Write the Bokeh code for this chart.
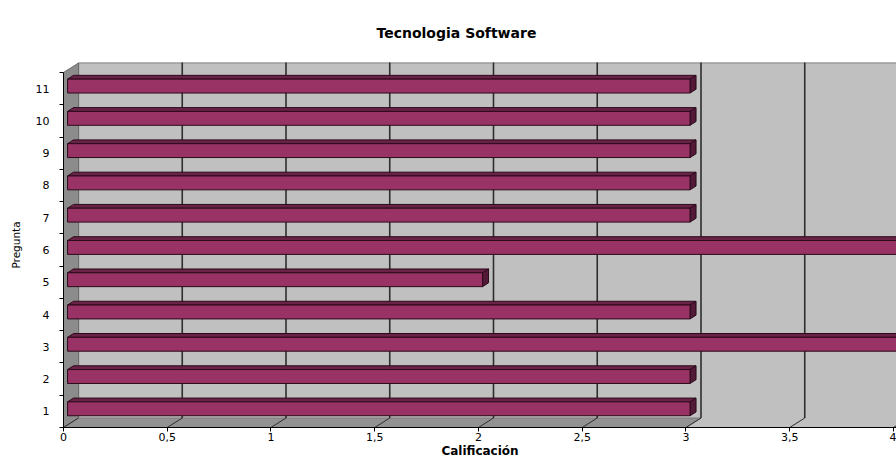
from bokeh.plotting import figure
from bokeh.models import FixedTicker, CustomJSTickFormatter, Range1d, Title
from bokeh.embed import file_html
from bokeh.resources import INLINE

# ---- data ----
categories = ["1", "2", "3", "4", "5", "6", "7", "8", "9", "10", "11"]
values = [3, 3, 4, 3, 2, 4, 3, 3, 3, 3, 3]
x_ticks = [0, 0.5, 1, 1.5, 2, 2.5, 3, 3.5, 4]
title_text = "Tecnologia  Software"
x_label = "Calificación"
y_label = "Pregunta"

# ---- layout / 3D geometry (in data units) ----
X_END = 4.0145
Y_START, Y_END = 0.5, 11.81
DX = 0.0723      # depth offset in x
DY = 0.294       # depth offset in y
BF, BB = 0.27, 0.67   # bar front/back depth fractions
H = 0.43         # bar face height
FLOOR_END = 3

FONT = "DejaVu Sans"

p = figure(width=896, height=460, output_backend="svg", toolbar_location=None,
           x_range=Range1d(0, X_END), y_range=Range1d(Y_START, Y_END),
           min_border_left=63, min_border_right=0, min_border_top=62,
           min_border_bottom=33)
p.background_fill_color = "white"
p.border_fill_color = "white"
p.outline_line_color = None
p.grid.visible = False

n = len(categories)
y_top_cat = n + 0.5

# back wall (also fills the region below where the floor is missing)
p.quad(left=[DX], right=[X_END + 1], bottom=[Y_START], top=[Y_END + 1],
       fill_color="#c0c0c0", line_color=None)
p.segment(x0=[DX], y0=[Y_END - 0.005], x1=[X_END + 1], y1=[Y_END - 0.005],
          line_color="#8a8a8a", line_width=1.5)
p.segment(x0=[DX], y0=[Y_START + DY], x1=[DX], y1=[Y_END],
          line_color="#8a8a8a", line_width=1.5)
# left wall
p.patch([0, DX, DX, 0], [Y_START, Y_START + DY, y_top_cat + DY, y_top_cat],
        fill_color="#8c8c8c", line_color="#6e6e6e", line_width=1)
# floor
p.patch([0, FLOOR_END, FLOOR_END + DX, DX],
        [Y_START, Y_START, Y_START + DY, Y_START + DY],
        fill_color="#929292", line_color="#7a7a7a", line_width=1)

# gridlines on back wall
gx = [t + DX for t in x_ticks[1:]]
p.segment(x0=gx, y0=[Y_START + DY] * len(gx), x1=gx, y1=[Y_END + 1] * len(gx),
          line_color="#2e2e2e", line_width=1.6)
# diagonal gridlines on the floor
p.segment(x0=x_ticks, y0=[Y_START] * len(x_ticks),
          x1=[t + DX for t in x_ticks], y1=[Y_START + DY] * len(x_ticks),
          line_color="#2e2e2e", line_width=1)

# bars (3D)
ypos = list(range(1, n + 1))
fx0 = BF * DX
dxb = (BB - BF) * DX
dyb = (BB - BF) * DY
bottoms = [y - H / 2 + BF * DY for y in ypos]
tops = [y + H / 2 + BF * DY for y in ypos]
rights = [v + fx0 for v in values]

top_xs = [[fx0, r, r + dxb, fx0 + dxb] for r in rights]
top_ys = [[t, t, t + dyb, t + dyb] for t in tops]
side_xs = [[r, r, r + dxb, r + dxb] for r in rights]
side_ys = [[b, t, t + dyb, b + dyb] for b, t in zip(bottoms, tops)]

p.patches(top_xs, top_ys, fill_color="#6a2347", line_color="#2b0a1a", line_width=1)
p.patches(side_xs, side_ys, fill_color="#521a37", line_color="#2b0a1a", line_width=1)
p.quad(left=[fx0] * n, right=rights, bottom=bottoms, top=tops,
       fill_color="#993366", line_color="#2b0a1a", line_width=1)

# ---- axes ----
xa = p.xaxis[0]
xa.ticker = FixedTicker(ticks=x_ticks, minor_ticks=[])
xa.formatter = CustomJSTickFormatter(code="return tick.toString().replace('.', ',');")
xa.bounds = (0, X_END)
xa.axis_line_color = "black"
xa.major_tick_line_color = "black"
xa.major_tick_out = 4
xa.major_tick_in = 0
xa.major_label_standoff = 1
xa.major_label_text_font = FONT
xa.major_label_text_font_size = "11px"
xa.major_label_text_color = "black"
xa.axis_label = x_label
xa.axis_label_text_font = FONT
xa.axis_label_text_font_size = "12px"
xa.axis_label_text_font_style = "bold"
xa.axis_label_standoff = 0
xa.axis_label_text_color = "black"

ya = p.yaxis[0]
ya.ticker = FixedTicker(ticks=ypos, minor_ticks=[y + 0.5 for y in range(0, n + 1)])
ya.formatter = CustomJSTickFormatter(args=dict(labels=categories),
                                     code="return labels[Math.round(tick) - 1];")
ya.bounds = (Y_START, y_top_cat)
ya.axis_line_color = "black"
ya.major_tick_out = 0
ya.major_tick_in = 0
ya.minor_tick_out = 4
ya.minor_tick_in = 0
ya.minor_tick_line_color = "black"
ya.major_label_standoff = 10
ya.major_label_text_font = FONT
ya.major_label_text_font_size = "11px"
ya.major_label_text_color = "black"
ya.axis_label = y_label
ya.axis_label_text_font = FONT
ya.axis_label_text_font_size = "10.5px"
ya.axis_label_text_font_style = "normal"
ya.axis_label_standoff = 11
ya.axis_label_text_color = "black"

title = Title(text=title_text, align="left", offset=313, text_font=FONT,
              text_font_size="14px", text_font_style="bold", text_color="black",
              standoff=43)
p.add_layout(title, "above")

open("out.html", "w").write(file_html(p, INLINE))
